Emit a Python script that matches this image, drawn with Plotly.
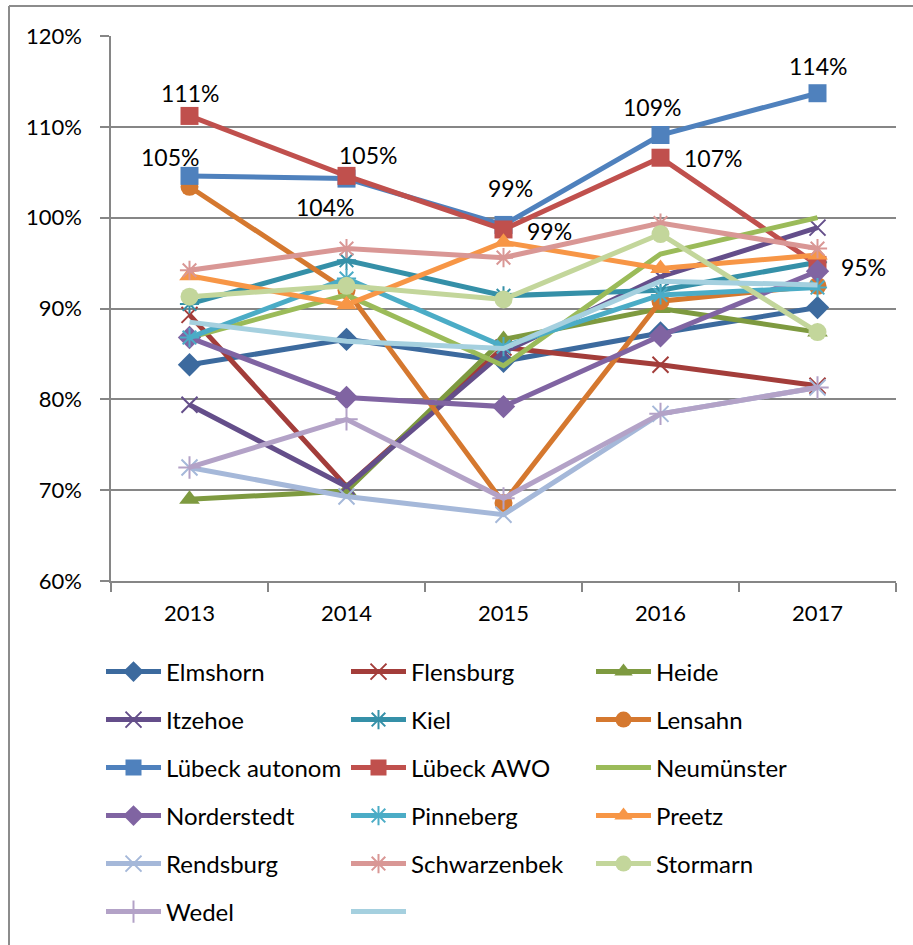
import plotly.graph_objects as go

years = ["2013", "2014", "2015", "2016", "2017"]

names = ["Elmshorn", "Flensburg", "Heide", "Itzehoe", "Kiel", "Lensahn",
         "Lübeck autonom", "Lübeck AWO", "Neumünster", "Norderstedt",
         "Pinneberg", "Preetz", "Rendsburg", "Schwarzenbek", "Stormarn",
         "Wedel", " "]

elmshorn = [83.8, 86.6, 84.2, 87.3, 90.1]
flensburg = [89.3, 70.4, 85.7, 83.8, 81.5]
heide = [69.0, 69.9, 86.6, 90.0, 87.4]
itzehoe = [79.4, 70.4, 85.2, 93.5, 98.9]
kiel = [90.5, 95.3, 91.4, 92.0, 95.1]
lensahn = [103.4, 92.0, 68.6, 90.8, 92.5]
luebeck_autonom = [104.6, 104.3, 99.2, 109.1, 113.7]
luebeck_awo = [111.2, 104.6, 98.7, 106.6, 94.8]
neumuenster = [86.8, 91.5, 83.7, 96.0, 100.0]
norderstedt = [86.8, 80.2, 79.2, 87.0, 94.1]
pinneberg = [86.8, 93.3, 85.8, 91.5, 92.3]
preetz = [93.6, 90.4, 97.3, 94.4, 95.9]
rendsburg = [72.5, 69.3, 67.3, 78.4, 81.3]
schwarzenbek = [94.2, 96.6, 95.6, 99.4, 96.6]
stormarn = [91.3, 92.5, 91.0, 98.2, 87.4]
wedel = [72.5, 77.8, 69.1, 78.4, 81.3]
unnamed = [88.5, 86.4, 85.6, 93.0, 92.6]

series = [elmshorn, flensburg, heide, itzehoe, kiel, lensahn, luebeck_autonom,
          luebeck_awo, neumuenster, norderstedt, pinneberg, preetz, rendsburg,
          schwarzenbek, stormarn, wedel, unnamed]

colors = ["#3C6A9E", "#A33D3A", "#7E9A40", "#644E8A", "#3590A8", "#D5782F",
          "#4F81BD", "#C0504D", "#9BBB59", "#8064A2", "#4BACC6", "#F79646",
          "#A5B8D9", "#D99795", "#C3D69B", "#B3A2C7", "#A5D0DF"]

symbols = ["diamond", "x-thin-open", "triangle-up", "x-thin-open", "asterisk-open",
           "circle", "square", "square", None, "diamond", "asterisk-open",
           "triangle-up", "x-thin-open", "asterisk-open", "circle",
           "cross-thin-open", None]

# label offsets (pixels) for data labels
autonom_shift = [(-20, 19), (-22, -28), (7, 37), (-9, 28), (0, 27)]
awo_shift = [(0, 23), (21, 21), (46, -2), (52, 0), (46, -2)]

FONT = "Lato, 'Open Sans', sans-serif"
GRID = "#868686"

fig = go.Figure()
for i, (nm, vals, col, sym) in enumerate(zip(names, series, colors, symbols)):
    legend_id = "legend" if i // 3 == 0 else f"legend{i // 3 + 1}"
    if sym is None:
        mode = "lines"
        marker = dict()
    else:
        mode = "lines+markers"
        open_sym = sym.endswith("-open")
        marker = dict(symbol=sym, size=16 if open_sym else 18,
                      color=col,
                      line=dict(color=col, width=2 if open_sym else 0))
    fig.add_trace(go.Scatter(
        x=years, y=vals, name=nm, mode=mode,
        line=dict(color=col, width=5),
        marker=marker, legend=legend_id, cliponaxis=False,
    ))

annotations = []
for vals, shifts in ((luebeck_autonom, autonom_shift), (luebeck_awo, awo_shift)):
    for idx, (v, (dx, dy)) in enumerate(zip(vals, shifts)):
        annotations.append(dict(
            x=idx, y=v, xref="x", yref="y", text=f"{round(v):d}%",
            showarrow=False, xshift=dx, yshift=dy,
            font=dict(family=FONT, size=23, color="#000000"),
            xanchor="center", yanchor="middle"))

# plot area geometry in px
L, R, T, B = 111, 896, 36, 582
W, H = R - L, B - T

row_y = [672, 720, 768, 816, 864, 912]
legends = {}
for r, ry in enumerate(row_y):
    key = "legend" if r == 0 else f"legend{r + 1}"
    legends[key] = dict(
        orientation="h", x=(101 - L) / W, xanchor="left",
        y=(B - ry) / H, yanchor="middle",
        entrywidth=175, entrywidthmode="pixels", itemwidth=55,
        font=dict(family=FONT, size=24, color="#000000"),
        bgcolor="rgba(0,0,0,0)", borderwidth=0,
        traceorder="normal", itemclick=False, itemdoubleclick=False,
    )

shapes = [
    dict(type="line", xref="paper", yref="paper",
         x0=(9 - L) / W, x1=(9 - L) / W, y0=(B - 6) / H, y1=(B - 960) / H,
         line=dict(color="#8C8C8C", width=2)),
    dict(type="line", xref="paper", yref="paper",
         x0=(9 - L) / W, x1=(930 - L) / W, y0=(B - 6) / H, y1=(B - 6) / H,
         line=dict(color="#8C8C8C", width=2)),
]

fig.update_layout(
    width=913, height=945,
    margin=dict(l=L, r=913 - R, t=T, b=945 - B),
    paper_bgcolor="white", plot_bgcolor="white",
    font=dict(family=FONT, size=22, color="#000000"),
    annotations=annotations, shapes=shapes,
    **legends,
)
fig.update_xaxes(
    type="category", range=[-0.5, 4.5], tickson="boundaries",
    ticks="outside", ticklen=9, tickwidth=1.5, tickcolor=GRID,
    showgrid=False, showline=True, linecolor=GRID, linewidth=1.5,
    tickfont=dict(family=FONT, size=22, color="#000000"),
    ticklabelstandoff=12,
)
fig.update_yaxes(
    range=[60, 120], dtick=10, ticksuffix="%",
    ticks="outside", ticklen=9, tickwidth=1.5, tickcolor=GRID,
    showgrid=True, gridcolor=GRID, gridwidth=1.5,
    showline=True, linecolor=GRID, linewidth=1.5, zeroline=False,
    tickfont=dict(family=FONT, size=22, color="#000000"),
    ticklabelstandoff=14,
)

fig.write_html(
    "out.html",
    config={"displayModeBar": False},
    post_script="document.body.style.margin='0';document.body.style.overflow='hidden';",
)
